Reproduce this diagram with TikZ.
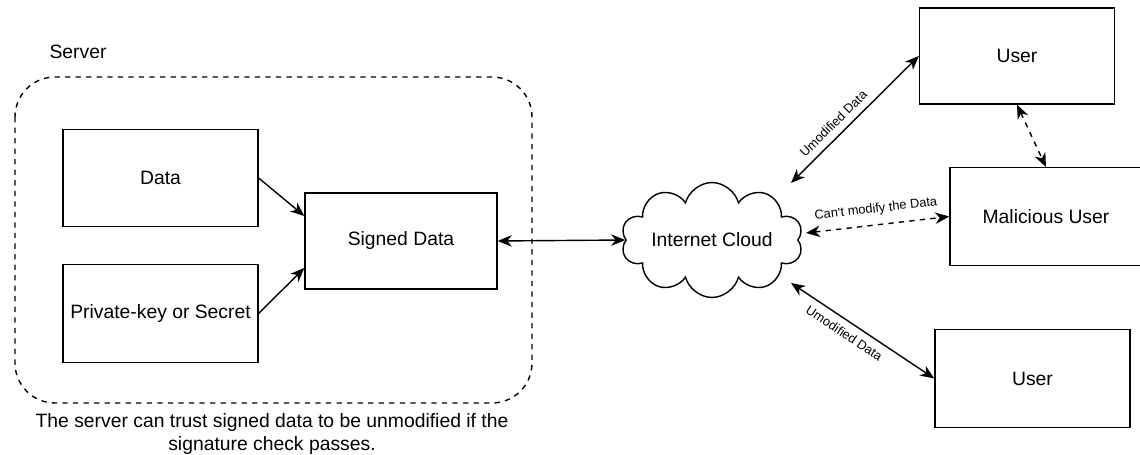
\documentclass[tikz,border=0pt]{standalone}
\usepackage{fontspec}
\setmainfont{Liberation Sans}
\usetikzlibrary{arrows.meta,shapes,positioning}

\begin{document}
\begin{tikzpicture}[x=0.02cm,y=-0.02cm,>={Stealth[length=8pt,width=6.5pt,inset=2.5pt]},thick,
		box/.style={draw,thick,rectangle,minimum width=3.9cm,minimum height=1.95cm,font=\fontsize{11}{13}\selectfont},
		lbl/.style={font=\fontsize{7.3}{9}\selectfont,sloped,inner sep=1pt}]
		\useasboundingbox (0,0) rectangle (1140,455);
		% server area
		\draw[dashed,rounded corners=0.8cm] (15,77) rectangle (532,403);
		\node[font=\fontsize{11}{13}\selectfont] (srv) at (78,52) {Server};
		\node[align=center,font=\fontsize{11}{13.6}\selectfont] (note) at (272,434) {The server can trust signed data to be unmodified if the\\signature check passes.};

		% nodes
		\node[box] (data) at (160.5,178) {Data};
		\node[box] (key) at (160.5,313.5) {Private-key or Secret};
		\node[box,minimum width=3.84cm,minimum height=1.92cm] (signed) at (401,241) {Signed Data};
		\node[draw,thick,cloud,cloud puffs=10,aspect=2.2,inner sep=0pt,minimum width=3.1cm,minimum height=1.4cm,font=\fontsize{11}{13}\selectfont] (cloud) at (712,240) {Internet Cloud};
		\node[box,minimum height=1.92cm] (user1) at (1017,56) {User};
		\node[box,minimum width=3.84cm] (mal) at (1046,216.5) {Malicious User};
		\node[box] (user2) at (1032.5,378.5) {User};

		% edges
		\draw[->] (data.east) -- ([yshift=0.5cm]signed.west);
		\draw[->] (key.east) -- ([yshift=-0.54cm]signed.west);
		\draw[<->] (signed.east) -- (cloud.west);
		\draw[<->] ([xshift=1.58cm,yshift=1.14cm]cloud.center) -- node[lbl,above=3pt,pos=0.4] {Umodified Data} (user1.west);
		\draw[<->] ([xshift=1.58cm,yshift=-0.86cm]cloud.center) -- node[lbl,below=3pt,pos=0.42] {Umodified Data} (user2.west);
		\draw[<->,dashed] ([xshift=1.88cm,yshift=0.14cm]cloud.center) -- node[lbl,above=4pt] {Can't modify the Data} (mal.west);
		\draw[<->,dashed] (user1.south) -- (mal.north);
\end{tikzpicture}
\end{document}
